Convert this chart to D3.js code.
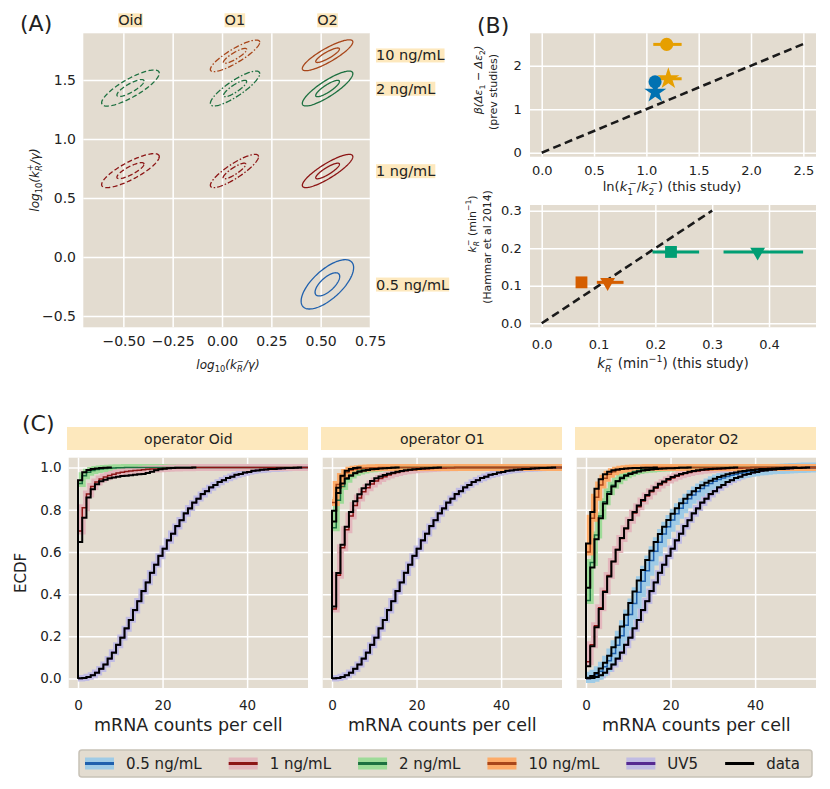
<!DOCTYPE html>
<html><head><meta charset="utf-8">
<script src="https://cdn.jsdelivr.net/npm/d3@7"></script>
<style>
body{margin:0;background:#fff;}
svg text{font-family:"DejaVu Sans",sans-serif;fill:#222;}
</style></head>
<body><svg id="fig" width="830" height="789"></svg>
<script>
// ================= DATA =================
// Panel A : posterior contours
const aXTicks = [-0.5, -0.25, 0, 0.25, 0.5, 0.75];
const aYTicks = [-0.5, 0, 0.5, 1.0, 1.5];
const operators = ["Oid", "O1", "O2"];
const contourOperator = ["Oid","Oid","O1","O1","O1","O2","O2","O2","O2"];
const contourConc = ["2 ng/mL","1 ng/mL","10 ng/mL","2 ng/mL","1 ng/mL","10 ng/mL","2 ng/mL","1 ng/mL","0.5 ng/mL"];
const contourMeanX = [-0.464,-0.464,0.066,0.066,0.063,0.535,0.535,0.535,0.534];
const contourMeanY = [1.432,0.732,1.705,1.428,0.729,1.710,1.428,0.729,-0.232];
const contourHalfX = [0.146,0.146,0.125,0.125,0.122,0.128,0.128,0.128,0.133];
const contourHalfY = [0.153,0.144,0.134,0.148,0.141,0.131,0.148,0.141,0.209];
const contourCorr  = [0.82,0.82,0.86,0.85,0.86,0.86,0.85,0.86,0.68];
const contourLevels = [1.0, 0.47];
const rowLabels = ["10 ng/mL","2 ng/mL","1 ng/mL","0.5 ng/mL"];

// Panel B top
const bTopXTicks = [0, 0.5, 1.0, 1.5, 2.0, 2.5];
const bTopYTicks = [0, 1, 2];
const lnKRatio   = [1.194, 1.21, 1.083, 1.085];
const lnKRatioLo = [1.066, 1.13, 1.055, 1.06];
const lnKRatioHi = [1.337, 1.337, 1.11, 1.11];
const betaDEps   = [2.49, 1.70, 1.63, 1.39];
const prevMarker = ["circle","star","circle","star"];
const prevColor  = ["#e69f00","#e69f00","#0072b2","#0072b2"];
const diagB1 = [0, 2.5];

// Panel B bottom
const bBotXTicks = [0, 0.1, 0.2, 0.3, 0.4];
const bBotYTicks = [0, 0.1, 0.2, 0.3];
const kRThisStudy   = [0.070, 0.116, 0.2275, 0.380];
const kRThisStudyLo = [0.062, 0.097, 0.195, 0.320];
const kRThisStudyHi = [0.078, 0.144, 0.277, 0.460];
const kRHammar      = [0.109, 0.109, 0.190, 0.190];
const hamMarker = ["square","tri","square","tri"];
const hamColor  = ["#d55e00","#d55e00","#009e73","#009e73"];
const diagB2 = [0, 0.3];

// Panel C : ECDFs (value at mRNA count 0,1,2,...)
const cXTicks = [0, 20, 40];
const cYTicks = [0, 0.2, 0.4, 0.6, 0.8, 1.0];
const facetTitles = ["operator Oid","operator O1","operator O2"];
const concLabels = ["0.5 ng/mL","1 ng/mL","2 ng/mL","10 ng/mL","UV5"];
const bandColors = ["#9fcbe6","#e3b6bc","#9edb98","#fdab68","#c1bce3"];
const lineColors = ["#1f60ad","#8c1515","#1d7040","#a8461a","#562a91"];

const thyUV5 = [0.000,0.003,0.008,0.016,0.028,0.045,0.067,0.093,0.124,0.158,0.195,0.236,0.279,0.323,0.368,0.413,0.457,0.500,0.541,0.580,0.617,0.653,0.688,0.721,0.752,0.781,0.808,0.832,0.854,0.873,0.890,0.905,0.919,0.931,0.941,0.950,0.958,0.965,0.971,0.976,0.980,0.984,0.987,0.989,0.991,0.993,0.994,0.995,0.996,0.997,0.998,0.998,0.999,1.000];
const datUV5 = [0.001,0.003,0.007,0.015,0.027,0.046,0.066,0.095,0.122,0.160,0.193,0.238,0.277,0.325,0.366,0.415,0.455,0.502,0.540,0.582,0.615,0.656,0.686,0.723,0.750,0.784,0.806,0.834,0.852,0.875,0.888,0.907,0.917,0.932,0.940,0.951,0.957,0.966,0.970,0.977,0.979,0.985,0.986,0.990,0.991,0.994,0.994,0.996,0.997,0.998,0.998,0.999,1.000];

const thyOid1 = [0.700,0.810,0.875,0.910,0.932,0.946,0.956,0.963,0.969,0.974,0.978,0.981,0.984,0.986,0.988,0.990,0.992,0.993,0.994,0.995,0.996,0.997,0.998,0.998,0.999,0.999,0.999,1.000];
const datOid1 = [0.647,0.762,0.858,0.897,0.921,0.935,0.943,0.949,0.953,0.957,0.960,0.962,0.964,0.966,0.968,0.970,0.974,0.980,0.987,0.992,0.995,0.997,0.998,0.999,0.999,0.999,0.999,1.000];
const thyOid2 = [0.925,0.962,0.978,0.986,0.991,0.994,0.996,0.997,0.998,0.999,0.999,1.000];
const datOid2 = [0.940,0.978,0.989,0.994,0.996,0.998,0.999,1.000];

const thyO1_10 = [0.835,0.920,0.958,0.977,0.987,0.992,0.995,0.997,0.998,0.999,0.999,1.000];
const datO1_10 = [0.795,0.905,0.962,0.985,0.994,0.998,1.000];
const thyO1_2  = [0.715,0.845,0.910,0.945,0.965,0.977,0.984,0.989,0.993,0.995,0.997,0.998,0.999,0.999,1.000];
const datO1_2  = [0.745,0.880,0.925,0.950,0.962,0.973,0.980,0.985,0.989,0.992,0.994,0.996,0.997,0.998,0.999,1.000];
const thyO1_1  = [0.330,0.490,0.620,0.705,0.770,0.820,0.856,0.885,0.905,0.922,0.937,0.948,0.957,0.965,0.972,0.977,0.981,0.985,0.988,0.990,0.992,0.994,0.995,0.996,0.997,0.998,0.998,0.999,0.999,1.000];
const datO1_1  = [0.342,0.500,0.634,0.720,0.790,0.840,0.874,0.902,0.920,0.937,0.950,0.958,0.965,0.971,0.976,0.980,0.984,0.987,0.990,0.992,0.994,0.996,0.997,0.998,0.999,1.000];

const thyO2_10 = [0.600,0.760,0.860,0.918,0.950,0.969,0.980,0.987,0.992,0.995,0.997,0.998,0.999,0.999,1.000];
const datO2_10 = [0.640,0.790,0.900,0.945,0.968,0.980,0.987,0.991,0.994,0.996,0.997,0.998,0.998,0.999,0.999,0.999,1.000];
const thyO2_2  = [0.370,0.550,0.680,0.770,0.838,0.885,0.916,0.938,0.954,0.966,0.975,0.981,0.986,0.990,0.992,0.994,0.996,0.997,0.998,0.998,0.999,0.999,1.000];
const datO2_2  = [0.430,0.526,0.660,0.760,0.830,0.875,0.910,0.935,0.950,0.962,0.970,0.976,0.982,0.986,0.989,0.991,0.993,0.995,0.996,0.997,0.997,0.998,0.999,0.999,1.000];
const thyO2_1  = [0.080,0.160,0.250,0.335,0.415,0.488,0.555,0.612,0.664,0.710,0.750,0.785,0.815,0.842,0.865,0.885,0.902,0.917,0.930,0.941,0.951,0.959,0.966,0.972,0.977,0.981,0.984,0.987,0.989,0.991,0.993,0.994,0.995,0.996,0.997,0.998,0.998,0.999,0.999,1.000];
const datO2_1  = [0.058,0.153,0.243,0.330,0.410,0.484,0.555,0.610,0.666,0.713,0.752,0.789,0.820,0.847,0.870,0.890,0.907,0.923,0.934,0.946,0.956,0.963,0.970,0.975,0.980,0.984,0.987,0.990,0.992,0.994,0.995,0.996,0.997,0.998,0.999,1.000];
const thyO2_05 = [0.002,0.008,0.018,0.034,0.056,0.084,0.118,0.158,0.203,0.252,0.303,0.356,0.409,0.461,0.511,0.559,0.604,0.646,0.685,0.720,0.752,0.781,0.807,0.831,0.852,0.870,0.887,0.901,0.914,0.925,0.935,0.944,0.951,0.958,0.964,0.969,0.973,0.977,0.980,0.983,0.986,0.988,0.990,0.992,0.993,0.994,0.995,0.996,0.997,0.998,0.998,0.999,1.000];
const datO2_05 = [0.004,0.012,0.026,0.047,0.075,0.108,0.148,0.195,0.247,0.302,0.358,0.412,0.465,0.515,0.562,0.606,0.647,0.685,0.720,0.752,0.781,0.807,0.831,0.852,0.871,0.888,0.903,0.916,0.928,0.938,0.947,0.955,0.962,0.968,0.973,0.977,0.981,0.984,0.987,0.989,0.991,0.993,0.994,0.995,0.996,0.997,0.998,0.999,0.999,1.000];

const legendLabels = ["0.5 ng/mL","1 ng/mL","2 ng/mL","10 ng/mL","UV5","data"];

// ================= DRAWING =================
const svg = d3.select("#fig");
const BG = "#e3dcd0", HL = "#fde8bd", GRID = "#ffffff";
const FF = "DejaVu Sans, sans-serif";

function frame(g, x, y, xTicks, yTicks, xFmt, yFmt, xPad, yPad, fs, showY = true) {
  const [x0, x1] = x.range(), [yb, yt] = y.range();
  g.append("rect").attr("x", x0).attr("y", yt).attr("width", x1 - x0).attr("height", yb - yt).attr("fill", BG);
  const ax = g.append("g").attr("transform", `translate(0,${yb})`)
    .call(d3.axisBottom(x).tickValues(xTicks).tickFormat(xFmt).tickSize(-(yb - yt)).tickPadding(xPad));
  const ay = g.append("g").attr("transform", `translate(${x0},0)`)
    .call(d3.axisLeft(y).tickValues(yTicks).tickFormat(showY ? yFmt : () => "").tickSize(-(x1 - x0)).tickPadding(yPad));
  [ax, ay].forEach(a => {
    a.select(".domain").remove();
    a.selectAll("line").attr("stroke", GRID).attr("stroke-width", 1.5);
    a.selectAll("text").attr("font-size", fs).attr("fill", "#222").attr("font-family", FF);
  });
}

// rich text: parts = [{t, i, sub, sup, dx}]
function rich(sel, parts, fs) {
  let shift = 0;
  parts.forEach(p => {
    const ts = sel.append("tspan").text(p.t);
    let target = 0;
    if (p.sub) target = fs * 0.28;
    if (p.sup) target = -fs * 0.42;
    ts.attr("dy", target - shift); shift = target;
    if (p.sub || p.sup) ts.attr("font-size", fs * 0.7);
    if (p.i) ts.attr("font-style", "italic");
    if (p.dx) ts.attr("dx", p.dx);
  });
}

function panelLetter(txt, x, y) {
  svg.append("text").attr("x", x).attr("y", y).attr("font-size", 22).text(txt);
}

function highlightText(g, txt, x, y, fs, anchor) {
  const t = g.append("text").attr("x", x).attr("y", y).attr("font-size", fs)
    .attr("text-anchor", anchor).text(txt);
  const bb = t.node().getBBox();
  g.insert("rect", () => t.node()).attr("x", bb.x).attr("y", bb.y + 1).attr("width", bb.width)
    .attr("height", bb.height - 2).attr("fill", HL);
}

// ---------- Panel A ----------
panelLetter("(A)", 20, 31);
const xA = d3.scaleLinear().domain([-0.703, 0.75]).range([83.3, 370]);
const yA = d3.scaleLinear().domain([-0.596, 1.896]).range([327.3, 33.3]);
const gA = svg.append("g");
frame(gA, xA, yA, aXTicks, aYTicks, d3.format(".2f"), d3.format(".1f"), 9, 7.3, 14);

const opDash = { "Oid": "5,2.5", "O1": "6,2,1.5,2", "O2": null };
const thetas = d3.range(0, 2 * Math.PI, Math.PI / 60);
const ellLine = d3.line().x(d => xA(d[0])).y(d => yA(d[1])).curve(d3.curveLinearClosed);
contourOperator.forEach((op, i) => {
  const c = concLabels.indexOf(contourConc[i]);
  const s = Math.sqrt(1 - contourCorr[i] ** 2);
  contourLevels.forEach(k => {
    const pts = thetas.map(t => [
      contourMeanX[i] + k * contourHalfX[i] * Math.cos(t),
      contourMeanY[i] + k * contourHalfY[i] * (contourCorr[i] * Math.cos(t) + s * Math.sin(t))]);
    gA.append("path").attr("d", ellLine(pts)).attr("fill", "none")
      .attr("stroke", lineColors[c]).attr("stroke-width", 1.3)
      .attr("stroke-dasharray", opDash[op]);
  });
});
operators.forEach(op => {
  const xs = contourMeanX.filter((v, i) => contourOperator[i] === op);
  highlightText(svg, op, xA(d3.mean(xs)), 25.3, 14.5, "middle");
});
rowLabels.forEach(lab => {
  const i = contourConc.findIndex((c, j) => c === lab && contourOperator[j] === "O2");
  highlightText(svg, lab, 376, yA(contourMeanY[i]) + 5.2, 14.5, "start");
});
{
  const t = svg.append("text").attr("x", 228).attr("y", 369).attr("text-anchor", "middle").attr("font-size", 12);
  rich(t, [{t:"log", i:1},{t:"10", sub:1},{t:"(", i:1},{t:"k", i:1},{t:"R", sub:1, i:1},{t:"−", sup:1, dx:-6},{t:"/γ)", i:1}], 12);
  const t2 = svg.append("text").attr("transform", "translate(34,180) rotate(-90)").attr("y", 4.5)
    .attr("text-anchor", "middle").attr("font-size", 12);
  rich(t2, [{t:"log", i:1},{t:"10", sub:1},{t:"(", i:1},{t:"k", i:1},{t:"R", sub:1, i:1},{t:"+", sup:1, dx:-6},{t:"/γ)", i:1}], 12);
}

// ---------- Panel B ----------
panelLetter("(B)", 477, 33);
const sym = { circle: d3.symbolCircle, star: d3.symbolStar, square: d3.symbolSquare, tri: d3.symbolTriangle };
const symSize = { circle: 135, star: 150, square: 140, tri: 95 };

const xB1 = d3.scaleLinear().domain([-0.112, 2.621]).range([530, 816]);
const yB1 = d3.scaleLinear().domain([-0.092, 2.745]).range([156.7, 33.3]);
const gB1 = svg.append("g");
frame(gB1, xB1, yB1, bTopXTicks, bTopYTicks, d3.format(".1f"), d3.format("d"), 9, 8.3, 13);
gB1.append("line").attr("x1", xB1(diagB1[0])).attr("y1", yB1(diagB1[0])).attr("x2", xB1(diagB1[1])).attr("y2", yB1(diagB1[1]))
  .attr("stroke", "#1a1a1a").attr("stroke-width", 2.6).attr("stroke-dasharray", "8,4.5");
lnKRatio.forEach((v, i) => {
  gB1.append("line").attr("x1", xB1(lnKRatioLo[i])).attr("x2", xB1(lnKRatioHi[i]))
    .attr("y1", yB1(betaDEps[i])).attr("y2", yB1(betaDEps[i])).attr("stroke", prevColor[i]).attr("stroke-width", 3);
});
lnKRatio.forEach((v, i) => {
  gB1.append("path").attr("d", d3.symbol(sym[prevMarker[i]], symSize[prevMarker[i]])())
    .attr("transform", `translate(${xB1(v)},${yB1(betaDEps[i])})`).attr("fill", prevColor[i]);
});
{
  const t = svg.append("text").attr("x", 672).attr("y", 191).attr("text-anchor", "middle").attr("font-size", 13);
  rich(t, [{t:"ln("},{t:"k", i:1},{t:"1", sub:1},{t:"−", sup:1, dx:-4},{t:"/"},{t:"k", i:1},{t:"2", sub:1},{t:"−", sup:1, dx:-4},{t:") (this study)"}], 13);
  const t1 = svg.append("text").attr("transform", "translate(478,80) rotate(-90)").attr("y", 4)
    .attr("text-anchor", "middle").attr("font-size", 11);
  rich(t1, [{t:"β(Δε", i:1},{t:"1", sub:1},{t:" − Δε", i:1},{t:"2", sub:1},{t:")", i:1}], 11);
  svg.append("text").attr("transform", "translate(493,92) rotate(-90)").attr("y", 4)
    .attr("text-anchor", "middle").attr("font-size", 11).text("(prev studies)");
}

const xB2 = d3.scaleLinear().domain([-0.0206, 0.4827]).range([530, 816]);
const yB2 = d3.scaleLinear().domain([-0.0107, 0.315]).range([327.3, 205]);
const gB2 = svg.append("g");
frame(gB2, xB2, yB2, bBotXTicks, bBotYTicks, d3.format(".1f"), d3.format(".1f"), 12, 8.3, 13);
gB2.append("line").attr("x1", xB2(diagB2[0])).attr("y1", yB2(diagB2[0])).attr("x2", xB2(diagB2[1])).attr("y2", yB2(diagB2[1]))
  .attr("stroke", "#1a1a1a").attr("stroke-width", 2.6).attr("stroke-dasharray", "8,4.5");
kRThisStudy.forEach((v, i) => {
  gB2.append("line").attr("x1", xB2(kRThisStudyLo[i])).attr("x2", xB2(kRThisStudyHi[i]))
    .attr("y1", yB2(kRHammar[i])).attr("y2", yB2(kRHammar[i])).attr("stroke", hamColor[i]).attr("stroke-width", 3);
});
kRThisStudy.forEach((v, i) => {
  const m = hamMarker[i];
  gB2.append("path").attr("d", d3.symbol(sym[m], symSize[m])())
    .attr("transform", `translate(${xB2(v)},${yB2(kRHammar[i])})` + (m === "tri" ? " rotate(180)" : ""))
    .attr("fill", hamColor[i]);
});
{
  const t = svg.append("text").attr("x", 673).attr("y", 368).attr("text-anchor", "middle").attr("font-size", 13.5);
  rich(t, [{t:"k", i:1},{t:"R", sub:1, i:1},{t:"−", sup:1, dx:-6},{t:"  (min"},{t:"−1", sup:1},{t:") (this study)"}], 13.5);
  const t1 = svg.append("text").attr("transform", "translate(472,224) rotate(-90)").attr("y", 4)
    .attr("text-anchor", "middle").attr("font-size", 11);
  rich(t1, [{t:"k", i:1},{t:"R", sub:1, i:1},{t:"−", sup:1, dx:-5},{t:"  (min"},{t:"−1", sup:1},{t:")"}], 11);
  svg.append("text").attr("transform", "translate(487,247) rotate(-90)").attr("y", 4)
    .attr("text-anchor", "middle").attr("font-size", 10.8).text("(Hammar et al 2014)");
}

// ---------- Panel C ----------
panelLetter("(C)", 22, 431);
const facetLeft = [68.7, 322.7, 576.7], facetW = 239.3;
const facetCurves = [
  [ { c: 4, thy: thyUV5, dat: datUV5 }, { c: 2, thy: thyOid2, dat: datOid2 }, { c: 1, thy: thyOid1, dat: datOid1 } ],
  [ { c: 4, thy: thyUV5, dat: datUV5 }, { c: 2, thy: thyO1_2, dat: datO1_2 }, { c: 1, thy: thyO1_1, dat: datO1_1 }, { c: 3, thy: thyO1_10, dat: datO1_10 } ],
  [ { c: 4, thy: thyUV5, dat: datUV5 }, { c: 0, thy: thyO2_05, dat: datO2_05 }, { c: 2, thy: thyO2_2, dat: datO2_2 }, { c: 1, thy: thyO2_1, dat: datO2_1 }, { c: 3, thy: thyO2_10, dat: datO2_10 } ]
];
const bandWidth = [10, 7, 7, 7, 6];
const yC = d3.scaleLinear().domain([-0.045, 1.047]).range([688, 457.7]);

facetTitles.forEach((title, f) => {
  const xC = d3.scaleLinear().domain([-2.2, 54.4]).range([facetLeft[f], facetLeft[f] + facetW]);
  const g = svg.append("g");
  g.append("rect").attr("x", facetLeft[f] - 1.7).attr("y", 427).attr("width", facetW + 1.7).attr("height", 23).attr("fill", HL);
  g.append("text").attr("x", facetLeft[f] + facetW / 2).attr("y", 443.5).attr("text-anchor", "middle").attr("font-size", 14).text(title);
  frame(g, xC, yC, cXTicks, cYTicks, d3.format("d"), d3.format(".1f"), 12, 7, 13.5, f === 0);
  const clipId = "clip" + f;
  svg.append("clipPath").attr("id", clipId).append("rect")
    .attr("x", facetLeft[f]).attr("y", 457.7).attr("width", facetW).attr("height", 688 - 457.7);
  const gc = g.append("g").attr("clip-path", `url(#${clipId})`);
  const step = d3.line().x(d => xC(d[0])).y(d => yC(d[1])).curve(d3.curveStepAfter);
  const thyPts = v => v.map((q, i) => [i, q]).concat([[xC.domain()[1], v[v.length - 1]]]);
  const datPts = v => [[0, 0]].concat(v.map((q, i) => [i, q]), [[v.length, v[v.length - 1]]]);
  const curves = facetCurves[f];
  curves.forEach(cv => {
    gc.append("path").attr("d", step(thyPts(cv.thy))).attr("fill", "none")
      .attr("stroke", bandColors[cv.c]).attr("stroke-width", bandWidth[cv.c]).attr("stroke-linejoin", "miter");
  });
  curves.forEach(cv => {
    gc.append("path").attr("d", step(thyPts(cv.thy))).attr("fill", "none")
      .attr("stroke", lineColors[cv.c]).attr("stroke-width", 1.5);
  });
  curves.forEach(cv => {
    gc.append("path").attr("d", step(datPts(cv.dat))).attr("fill", "none")
      .attr("stroke", "#000").attr("stroke-width", 2);
  });
  g.append("text").attr("x", facetLeft[f] + facetW / 2).attr("y", 731).attr("text-anchor", "middle")
    .attr("font-size", 17.5).text("mRNA counts per cell");
});
svg.append("text").attr("transform", "translate(21,573) rotate(-90)").attr("y", 5.3)
  .attr("text-anchor", "middle").attr("font-size", 15).text("ECDF");

// ---------- Legend ----------
{
  const g = svg.append("g");
  g.append("rect").attr("x", 79).attr("y", 750).attr("width", 733).attr("height", 27).attr("rx", 3)
    .attr("fill", BG).attr("stroke", "#c8c2b7").attr("stroke-width", 1.5);
  let x = 85;
  const yc = 763.5;
  legendLabels.forEach((lab, i) => {
    if (i < 5) {
      g.append("rect").attr("x", x).attr("y", yc - 6).attr("width", 29).attr("height", 12).attr("fill", bandColors[i]);
      g.append("line").attr("x1", x).attr("x2", x + 29).attr("y1", yc).attr("y2", yc).attr("stroke", lineColors[i]).attr("stroke-width", 3);
    } else {
      g.append("line").attr("x1", x).attr("x2", x + 29).attr("y1", yc).attr("y2", yc).attr("stroke", "#000").attr("stroke-width", 3);
    }
    const t = g.append("text").attr("x", x + 41).attr("y", yc + 5.5).attr("font-size", 15).text(lab);
    x += 41 + t.node().getComputedTextLength() + 27;
  });
}
</script>
</body></html>
